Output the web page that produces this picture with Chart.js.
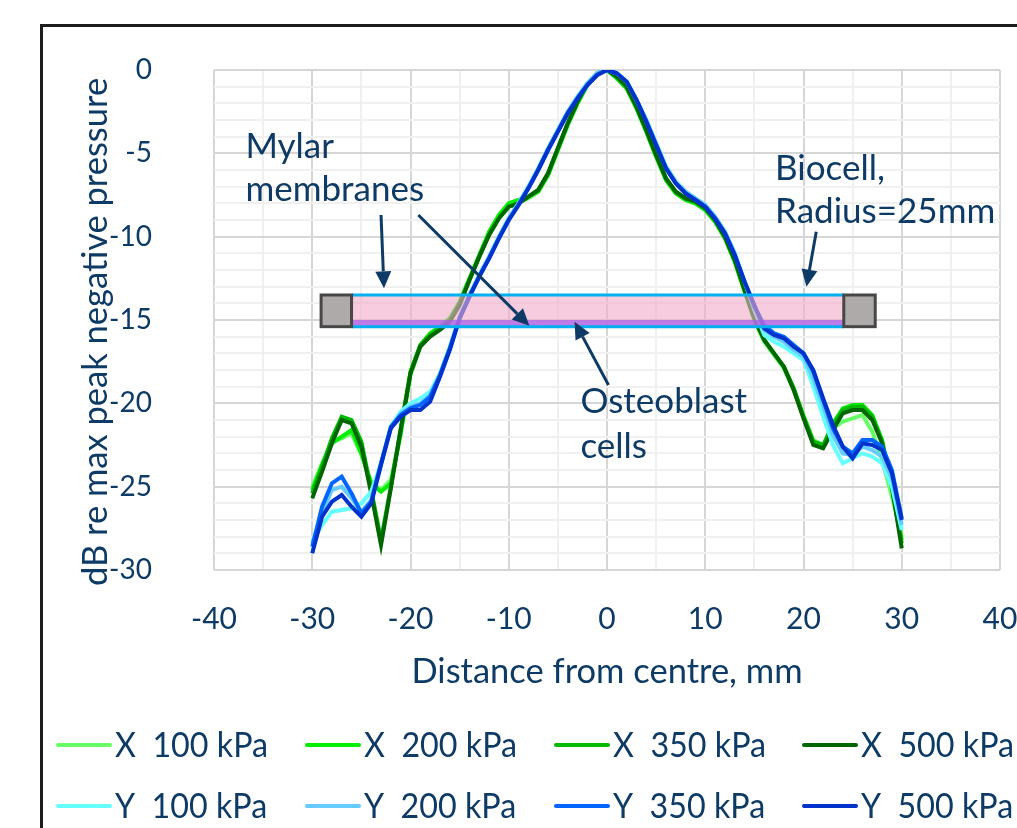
<!DOCTYPE html>
<html>
<head>
<meta charset="utf-8">
<script src="https://cdn.jsdelivr.net/npm/chart.js@4.4.1/dist/chart.umd.min.js"></script>
<style>
  html, body { margin: 0; padding: 0; background: #fff; overflow: hidden; width: 1017px; height: 828px; }
  #frame { position: absolute; left: 40px; top: 24px; width: 2000px; height: 2000px;
           border-left: 3px solid #1c1c1c; border-top: 3px solid #1c1c1c; }
  #wrap { position: absolute; left: 0; top: 0; width: 1100px; height: 828px; }
</style>
</head>
<body>
<div id="frame"></div>
<div id="wrap"><canvas id="chart" width="1100" height="828"></canvas></div>
<script>
const NAVY = "#0E3B66";
const FONT = "Lato, 'Open Sans', sans-serif";

// distance from centre, mm
const distance = [];
for (let d = -30; d <= 30; d++) distance.push(d);

const xTitle = "Distance from centre, mm";
const yTitle = "dB re max peak negative pressure";
const seriesNames = ["X  100 kPa", "X  200 kPa", "X  350 kPa", "X  500 kPa",
                     "Y  100 kPa", "Y  200 kPa", "Y  350 kPa", "Y  500 kPa"];
const seriesColors = ["#66FF66", "#00EE00", "#00BB00", "#006600",
                      "#66FFFF", "#66CCFF", "#0066FF", "#0033CC"];

// dB re max peak negative pressure, x = -30 .. 30 mm
const x100 = [-25.0, -23.6, -22.3, -22.1, -21.8, -23.1, -24.7, -25.2, -24.6, -21.9,
  -18.3, -16.6, -15.9, -15.5, -15.0, -14.0, -12.6, -11.2, -9.8, -8.8,
  -8.1, -7.9, -7.7, -7.3, -6.3, -4.8, -3.3, -2.0, -0.9, -0.2,
  0, -0.5, -1.1, -2.3, -3.7, -5.2, -6.6, -7.4, -7.8, -8.0,
  -8.4, -9.1, -10.1, -11.5, -13.2, -15.0, -16.3, -17.1, -17.9, -19.2,
  -20.7, -22.2, -22.5, -21.5, -21.1, -20.9, -20.7, -21.7, -23.4, -25.6, -28.0];
const x200 = [-25.2, -23.7, -22.4, -22.0, -21.6, -23.0, -24.8, -25.3, -24.8, -21.8,
  -18.1, -16.5, -15.8, -15.4, -14.9, -13.9, -12.5, -11.1, -9.7, -8.7,
  -8.0, -7.8, -7.6, -7.3, -6.3, -4.8, -3.3, -2.0, -0.9, -0.2,
  0, -0.5, -1.1, -2.3, -3.7, -5.2, -6.6, -7.4, -7.8, -8.0,
  -8.4, -9.1, -10.1, -11.5, -13.3, -15.0, -16.2, -17.0, -17.8, -19.1,
  -20.8, -22.3, -22.6, -21.2, -20.3, -20.1, -20.1, -20.7, -22.2, -25.0, -28.2];
const x350 = [-25.4, -23.8, -22.1, -20.8, -21.0, -22.3, -25.2, -28.2, -25.0, -21.5,
  -18.1, -16.5, -15.9, -15.5, -15.0, -14.0, -12.6, -11.2, -9.9, -8.9,
  -8.2, -8.0, -7.6, -7.2, -6.2, -4.7, -3.2, -1.9, -0.8, -0.2,
  0, -0.4, -1.0, -2.2, -3.6, -5.1, -6.5, -7.3, -7.7, -7.9,
  -8.3, -9.0, -10.0, -11.4, -13.2, -14.9, -16.2, -17.0, -17.8, -19.1,
  -20.8, -22.3, -22.5, -21.3, -20.4, -20.2, -20.2, -20.8, -22.3, -25.1, -28.4];
const x500 = [-25.7, -24.1, -22.4, -21.0, -21.2, -22.6, -25.4, -28.5, -25.1, -21.6,
  -18.2, -16.6, -16.0, -15.6, -15.1, -14.1, -12.6, -11.2, -9.9, -8.9,
  -8.2, -8.0, -7.6, -7.2, -6.2, -4.7, -3.2, -1.9, -0.8, -0.2,
  0, -0.4, -1.0, -2.2, -3.6, -5.1, -6.5, -7.3, -7.7, -7.9,
  -8.3, -9.0, -10.0, -11.4, -13.2, -14.9, -16.2, -17.0, -17.8, -19.2,
  -20.9, -22.5, -22.7, -21.6, -20.6, -20.4, -20.4, -21.0, -22.4, -25.0, -28.7];
const y100 = [-28.3, -27.3, -26.5, -26.4, -26.3, -26.0, -25.3, -23.6, -21.4, -20.5,
  -20.0, -19.7, -19.3, -18.2, -16.6, -14.8, -13.5, -12.3, -11.2, -10.0,
  -8.9, -8.0, -7.0, -5.9, -4.7, -3.6, -2.5, -1.6, -0.8, -0.2,
  0, -0.2, -0.7, -1.8, -3.0, -4.4, -5.8, -6.7, -7.3, -7.7,
  -8.1, -8.8, -9.7, -11.0, -12.7, -14.4, -15.9, -16.3, -16.6, -17.0,
  -17.4, -19.0, -20.8, -22.5, -23.6, -23.3, -23.0, -23.2, -23.6, -25.0, -27.6];
const y200 = [-28.4, -26.6, -25.2, -25.0, -25.7, -26.5, -25.8, -23.6, -21.5, -20.6,
  -20.2, -20.0, -19.5, -18.3, -16.7, -14.8, -13.5, -12.3, -11.2, -10.0,
  -8.9, -8.0, -7.0, -5.9, -4.7, -3.6, -2.5, -1.6, -0.8, -0.2,
  0, -0.2, -0.7, -1.8, -3.0, -4.4, -5.8, -6.7, -7.3, -7.7,
  -8.1, -8.8, -9.7, -11.0, -12.7, -14.3, -15.6, -16.0, -16.3, -16.8,
  -17.2, -18.5, -20.2, -21.9, -23.0, -23.1, -22.6, -22.8, -23.2, -24.5, -27.3];
const y350 = [-28.6, -26.2, -24.8, -24.4, -25.4, -26.6, -25.9, -23.6, -21.4, -20.7,
  -20.3, -20.1, -19.6, -18.3, -16.7, -14.9, -13.6, -12.4, -11.3, -10.1,
  -9.0, -8.1, -7.1, -6.0, -4.8, -3.7, -2.6, -1.7, -0.9, -0.3,
  0, -0.2, -0.7, -1.8, -3.1, -4.5, -5.9, -6.8, -7.4, -7.8,
  -8.2, -8.9, -9.8, -11.1, -12.7, -14.2, -15.3, -15.8, -16.0, -16.5,
  -17.0, -18.1, -19.8, -21.5, -22.6, -23.0, -22.2, -22.2, -22.6, -24.0, -26.9];
const y500 = [-29.0, -26.8, -25.9, -25.5, -26.2, -26.8, -26.0, -23.7, -21.5, -20.8,
  -20.4, -20.4, -19.9, -18.4, -16.8, -14.9, -13.6, -12.4, -11.3, -10.1,
  -9.0, -8.1, -7.1, -6.0, -4.8, -3.7, -2.6, -1.7, -0.9, -0.3,
  0, -0.2, -0.7, -1.8, -3.1, -4.5, -5.9, -6.8, -7.4, -7.8,
  -8.2, -8.9, -9.8, -11.1, -12.7, -14.1, -15.5, -15.9, -16.1, -16.6,
  -17.0, -18.0, -19.7, -21.3, -22.6, -23.3, -22.4, -22.5, -22.8, -24.2, -27.0];
const seriesValues = [x100, x200, x350, x500, y100, y200, y350, y500];

// biocell sketch, in axis units (mm, dB)
const biocell = { left: -29.1, innerLeft: -26.0, innerRight: 24.1, right: 27.3,
                  top: -13.5, bottom: -15.4, cellTop: -15.0 };
const noteTexts = [
  { x: -36.8, y: -4.6, text: "Mylar" },
  { x: -36.8, y: -7.2, text: "membranes" },
  { x: 17.1, y: -5.9, text: "Biocell," },
  { x: 17.1, y: -8.5, text: "Radius=25mm" },
  { x: -2.7, y: -19.9, text: "Osteoblast" },
  { x: -2.7, y: -22.6, text: "cells" },
];
const noteArrows = [
  { x0: -23.0, y0: -8.7, x1: -22.7, y1: -13.1 },
  { x0: -19.2, y0: -8.7, x1: -7.9, y1: -15.35 },
  { x0: 0.15, y0: -18.9, x1: -3.3, y1: -15.1 },
  { x0: 21.3, y0: -9.7, x1: 20.3, y1: -13.0 },
];

function drawArrow(ctx, x0, y0, x1, y1) {
  const a = Math.atan2(y1 - y0, x1 - x0);
  const len = 17, half = 8;
  const bx = x1 - len * Math.cos(a), by = y1 - len * Math.sin(a);
  ctx.beginPath();
  ctx.moveTo(x0, y0);
  ctx.lineTo(bx, by);
  ctx.stroke();
  ctx.beginPath();
  ctx.moveTo(x1, y1);
  ctx.lineTo(bx + half * Math.sin(a), by - half * Math.cos(a));
  ctx.lineTo(bx - half * Math.sin(a), by + half * Math.cos(a));
  ctx.closePath();
  ctx.fill();
}

const overlayPlugin = {
  id: "overlay",
  afterDatasetsDraw(chart) {
    const { ctx, chartArea } = chart;
    const X = (v) => chart.scales.x.getPixelForValue(v);
    const Y = (v) => chart.scales.y.getPixelForValue(v);
    const b = biocell;
    const il = X(b.innerLeft), ir = X(b.innerRight), t = Y(b.top), bt = Y(b.bottom);
    ctx.save();
    ctx.fillStyle = "rgba(242,170,200,0.6)";
    ctx.fillRect(il, t, ir - il, bt - t);
    ctx.fillStyle = "rgba(165,90,235,0.7)";
    ctx.fillRect(il, Y(b.cellTop), ir - il, bt - Y(b.cellTop));
    ctx.strokeStyle = "#00B0F0";
    ctx.lineWidth = 3;
    ctx.beginPath();
    ctx.moveTo(il, t); ctx.lineTo(ir, t);
    ctx.moveTo(il, bt); ctx.lineTo(ir, bt);
    ctx.stroke();
    ctx.fillStyle = "#AEAAAA";
    ctx.strokeStyle = "#474747";
    [[b.left, b.innerLeft], [b.innerRight, b.right]].forEach(([l, r]) => {
      ctx.fillRect(X(l), t, X(r) - X(l), bt - t);
      ctx.strokeRect(X(l), t, X(r) - X(l), bt - t);
    });
    ctx.strokeStyle = NAVY;
    ctx.fillStyle = NAVY;
    ctx.lineWidth = 3;
    noteArrows.forEach((a) => drawArrow(ctx, X(a.x0), Y(a.y0), X(a.x1), Y(a.y1)));
    ctx.font = "35px " + FONT;
    ctx.textAlign = "left";
    ctx.textBaseline = "middle";
    noteTexts.forEach((n) => ctx.fillText(n.text, X(n.x), Y(n.y)));

    // vertical axis title, sitting a little below the plot centre as in the original
    ctx.translate(96, (chartArea.top + chartArea.bottom) / 2 + 12);
    ctx.rotate(-Math.PI / 2);
    ctx.textAlign = "center";
    ctx.font = "34.5px " + FONT;
    ctx.fillText(yTitle, 0, 0);
    ctx.restore();
  },
};

// legend: 4 columns x 2 rows, condensed text as in the original
const legendPlugin = {
  id: "rowLegend",
  afterDraw(chart) {
    const { ctx } = chart;
    const cols = [58, 307, 556, 804];
    const rows = [745, 806];
    ctx.save();
    ctx.font = "34px " + FONT;
    ctx.textBaseline = "middle";
    const squeeze = 153 / ctx.measureText(seriesNames[0]).width;
    seriesNames.forEach((name, i) => {
      const cx = cols[i % 4], cy = rows[Math.floor(i / 4)];
      ctx.strokeStyle = seriesColors[i];
      ctx.lineWidth = 4;
      ctx.lineCap = "round";
      ctx.beginPath();
      ctx.moveTo(cx, cy);
      ctx.lineTo(cx + 52, cy);
      ctx.stroke();
      ctx.save();
      ctx.translate(cx + 57, cy + 1);
      ctx.scale(squeeze, 1);
      ctx.fillStyle = NAVY;
      ctx.fillText(name, 0, 0);
      ctx.restore();
    });
    ctx.restore();
  },
};

const datasets = seriesNames.map((name, i) => ({
  label: name,
  data: distance.map((d, k) => ({ x: d, y: seriesValues[i][k] })),
  borderColor: seriesColors[i],
  backgroundColor: seriesColors[i],
  borderWidth: 4,
  pointRadius: 0,
  tension: 0,
  order: seriesNames.length - i,
}));

const gridColor = (major) => (c) => (c.tick && c.tick.value % major === 0 ? "#D6D6D6" : "#F0F0F0");

new Chart(document.getElementById("chart"), {
  type: "line",
  data: { datasets },
  plugins: [overlayPlugin, legendPlugin],
  options: {
    responsive: false,
    animation: false,
    devicePixelRatio: 1,
    layout: { padding: { left: 0, top: 70, right: 100, bottom: 128 } },
    plugins: { legend: { display: false }, tooltip: { enabled: false } },
    scales: {
      x: {
        type: "linear",
        min: -40,
        max: 40,
        afterFit: (s) => { s.height = 130; },
        border: { display: false },
        grid: { color: gridColor(10), lineWidth: 2, drawTicks: false },
        ticks: {
          stepSize: 5,
          autoSkip: false,
          maxRotation: 0,
          padding: 31,
          color: NAVY,
          font: { family: FONT, size: 30 },
          callback: (v) => (v % 10 === 0 ? String(v) : ""),
        },
        title: {
          display: true,
          text: xTitle,
          color: NAVY,
          font: { family: FONT, size: 34.5 },
          padding: { top: 0, bottom: 7 },
        },
      },
      y: {
        min: -30,
        max: 0,
        // fixed axis width; the large label gap must not push the plot down
        afterFit: (s) => { s.width = 214; s.paddingTop = 0; s.paddingBottom = 0; },
        border: { display: false },
        grid: { color: gridColor(5), lineWidth: 2, drawTicks: false },
        ticks: {
          stepSize: 1,
          autoSkip: false,
          padding: 62,
          color: NAVY,
          font: { family: FONT, size: 28 },
          callback: (v) => (v % 5 === 0 ? String(v) : ""),
        },
      },
    },
  },
});
</script>
</body>
</html>
